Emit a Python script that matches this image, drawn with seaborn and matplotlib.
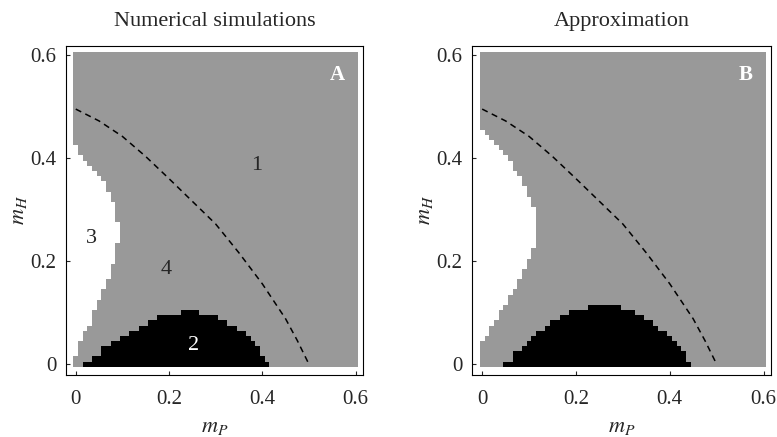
import numpy as np
import matplotlib
matplotlib.use("Agg")
import matplotlib.pyplot as plt
from matplotlib.colors import ListedColormap
import seaborn as sns

# parameter scan, cell centres for both m_P and m_H
m_grid = np.round(np.arange(0, 0.601, 0.01), 2)

# right edge (m_P) of the white region 3, one value per m_H row (0.00, 0.01, ...)
white_edge_A = [0.00, 0.00, 0.01, 0.01, 0.01, 0.02, 0.02, 0.03, 0.04, 0.04, 0.04,
                0.05, 0.05, 0.06, 0.06, 0.07, 0.07, 0.08, 0.08, 0.08, 0.09, 0.09,
                0.09, 0.09, 0.10, 0.10, 0.10, 0.10, 0.09, 0.09, 0.09, 0.09, 0.08,
                0.08, 0.07, 0.07, 0.06, 0.05, 0.04, 0.03, 0.02, 0.01, 0.01]
white_edge_B = [0.00, 0.00, 0.00, 0.00, 0.00, 0.01, 0.02, 0.02, 0.03, 0.04, 0.04,
                0.05, 0.06, 0.06, 0.07, 0.08, 0.08, 0.09, 0.09, 0.10, 0.10, 0.11,
                0.11, 0.12, 0.12, 0.12, 0.12, 0.12, 0.12, 0.12, 0.12, 0.11, 0.11,
                0.10, 0.10, 0.09, 0.09, 0.08, 0.07, 0.07, 0.06, 0.05, 0.04, 0.03,
                0.02, 0.01]

# top (m_H) of the black region 2, one value per m_P column (0.00, 0.01, ...)
black_top_A = [0.00, 0.00, 0.01, 0.01, 0.02, 0.02, 0.04, 0.04, 0.05, 0.05, 0.06,
               0.06, 0.07, 0.07, 0.08, 0.08, 0.09, 0.09, 0.10, 0.10, 0.10, 0.10,
               0.10, 0.11, 0.11, 0.11, 0.11, 0.10, 0.10, 0.10, 0.10, 0.09, 0.09,
               0.08, 0.08, 0.07, 0.07, 0.06, 0.05, 0.04, 0.02, 0.01, 0.00]
black_top_B = [0.00, 0.00, 0.00, 0.00, 0.00, 0.01, 0.01, 0.03, 0.03, 0.04, 0.05,
               0.06, 0.07, 0.07, 0.08, 0.09, 0.09, 0.10, 0.10, 0.11, 0.11, 0.11,
               0.11, 0.12, 0.12, 0.12, 0.12, 0.12, 0.12, 0.12, 0.11, 0.11, 0.11,
               0.10, 0.10, 0.09, 0.09, 0.08, 0.07, 0.07, 0.06, 0.05, 0.04, 0.03,
               0.01, 0.00]

# dashed boundary (same in both panels)
dash_mP = [0.00, 0.05, 0.10, 0.15, 0.20, 0.25, 0.30, 0.35, 0.40, 0.45, 0.475, 0.50]
dash_mH = [0.495, 0.472, 0.442, 0.403, 0.360, 0.316, 0.272, 0.216, 0.156, 0.088, 0.046, 0.0]

titles = ["Numerical simulations", "Approximation"]
panel_tags = ["A", "B"]
tick_vals = [0, 0.2, 0.4, 0.6]
tick_labels = ["0", "0.2", "0.4", "0.6"]

GRAY = "#999999"


def region_grid(white_edge, black_top):
    mP, mH = np.meshgrid(m_grid, m_grid)
    we = np.zeros(len(m_grid))
    we[:len(white_edge)] = white_edge
    bt = np.zeros(len(m_grid))
    bt[:len(black_top)] = black_top
    z = np.ones_like(mP)
    z[mP < we[:, None] - 0.005] = 0
    z[mH < bt[None, :] - 0.005] = 2
    return z


def draw_panel(ax, z, title, tag, numbered):
    edges = np.append(m_grid - 0.005, m_grid[-1] + 0.005)
    ax.pcolormesh(edges, edges, z, cmap=ListedColormap(["white", GRAY, "black"]),
                  vmin=-0.5, vmax=2.5, shading="flat")
    sns.lineplot(x=dash_mP, y=dash_mH, ax=ax, color="black", lw=1.1,
                 linestyle=(0, (4, 3)), sort=False, estimator=None)
    ax.set_xlim(-0.021, 0.616)
    ax.set_ylim(-0.021, 0.618)
    ax.set_xticks(tick_vals)
    ax.set_xticklabels(tick_labels)
    ax.set_yticks(tick_vals)
    ax.set_yticklabels(tick_labels)
    ax.tick_params(direction="in", length=3, width=0.8, labelsize=15, pad=7)
    ax.tick_params(axis="x", pad=11)
    for s in ax.spines.values():
        s.set_visible(True)
        s.set_linewidth(0.8)
        s.set_color("black")
    ax.set_xlabel("$m_P$", fontsize=16, labelpad=6)
    ax.set_ylabel("$m_H$", fontsize=16, labelpad=1)
    ax.set_title(title, fontsize=16, pad=14)
    ax.text(0.562, 0.562, tag, color="white", fontsize=15, fontweight="bold",
            ha="center", va="center")
    if numbered:
        ax.text(0.387, 0.386, "1", fontsize=16, ha="center", va="center")
        ax.text(0.033, 0.244, "3", fontsize=16, ha="center", va="center")
        ax.text(0.193, 0.184, "4", fontsize=16, ha="center", va="center")
        ax.text(0.252, 0.037, "2", fontsize=16, color="white", ha="center", va="center")


sns.set_style("ticks")
plt.rcParams["font.family"] = ["Liberation Serif", "DejaVu Serif"]
plt.rcParams["mathtext.fontset"] = "stix"

fig = plt.figure(figsize=(7.77, 4.37), dpi=100)
ax_a = fig.add_axes([0.0849, 0.1419, 0.3823, 0.7535])
ax_b = fig.add_axes([0.6079, 0.1419, 0.3844, 0.7535])

draw_panel(ax_a, region_grid(white_edge_A, black_top_A), titles[0], panel_tags[0], True)
draw_panel(ax_b, region_grid(white_edge_B, black_top_B), titles[1], panel_tags[1], False)

fig.savefig("out.png", dpi=100)
